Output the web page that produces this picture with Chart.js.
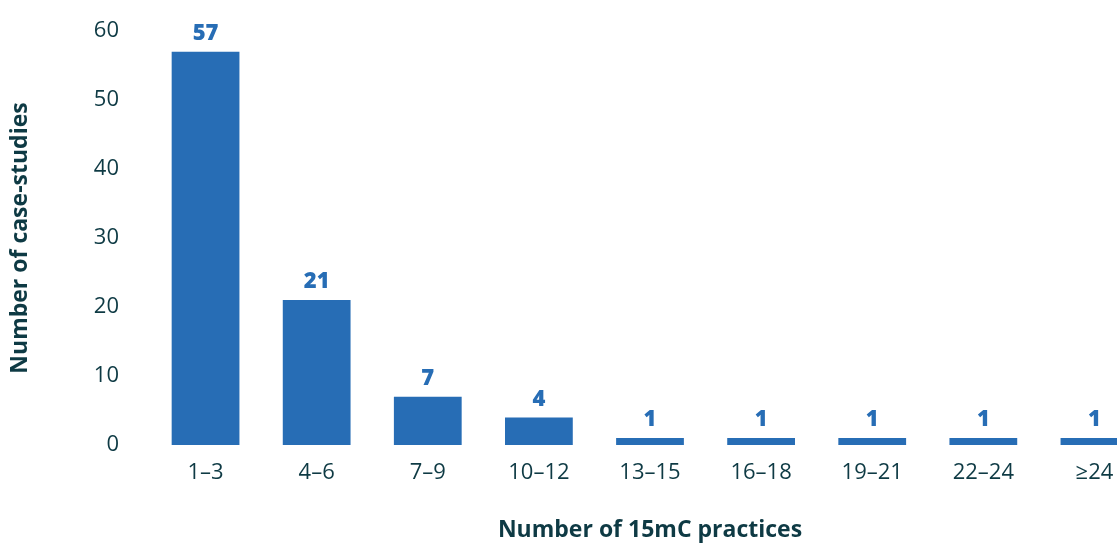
<!DOCTYPE html>
<html>
<head>
<meta charset="utf-8">
<script src="https://cdn.jsdelivr.net/npm/chart.js@4/dist/chart.umd.min.js"></script>
<style>
  html, body { margin: 0; padding: 0; background: #fff; overflow: hidden; }
  #wrap { width: 1150px; height: 544px; }
</style>
</head>
<body>
<div id="wrap"><canvas id="practicesChart" width="1150" height="544"></canvas></div>
<script>
// chart values
const categories = ['1–3', '4–6', '7–9', '10–12', '13–15', '16–18', '19–21', '22–24', '≥24'];
const caseStudies = [57, 21, 7, 4, 1, 1, 1, 1, 1];
const yTickValues = [0, 10, 20, 30, 40, 50, 60];

const barColor = '#276db5';
const textColor = '#0e3a44';
const fontFamily = '"Open Sans", "DejaVu Sans", sans-serif';

// draw the value above each bar
const valueLabels = {
  id: 'valueLabels',
  afterDatasetsDraw(chart) {
    const ctx = chart.ctx;
    const meta = chart.getDatasetMeta(0);
    ctx.save();
    ctx.font = '800 22px ' + fontFamily;
    ctx.fillStyle = barColor;
    ctx.textAlign = 'center';
    ctx.textBaseline = 'middle';
    meta.data.forEach((bar, i) => {
      ctx.fillText(String(caseStudies[i]), bar.x, bar.y - 18);
    });
    ctx.restore();
  }
};

const ctx = document.getElementById('practicesChart').getContext('2d');

new Chart(ctx, {
  type: 'bar',
  data: {
    labels: categories,
    datasets: [{
      label: 'Number of case-studies',
      data: caseStudies,
      backgroundColor: barColor,
      borderWidth: 0,
      categoryPercentage: 1,
      barPercentage: 0.61
    }]
  },
  options: {
    responsive: false,
    animation: false,
    layout: { padding: { top: 31, left: 0, right: 0, bottom: 0 } },
    plugins: {
      legend: { display: false },
      tooltip: { enabled: false }
    },
    scales: {
      x: {
        grid: { display: false, drawTicks: false },
        border: { display: false },
        ticks: {
          color: textColor,
          font: { family: fontFamily, size: 22 },
          padding: 15,
          maxRotation: 0,
          autoSkip: false
        },
        title: {
          display: true,
          text: 'Number of 15mC practices',
          color: textColor,
          font: { family: fontFamily, size: 23, weight: 'bold' },
          padding: { top: 0, bottom: 0 }
        },
        afterFit(scale) { scale.height = 99; }
      },
      y: {
        min: 0,
        max: 60,
        grid: { display: false, drawTicks: false },
        border: { display: false },
        afterBuildTicks(scale) {
          scale.ticks = yTickValues.map(v => ({ value: v }));
        },
        ticks: {
          color: textColor,
          font: { family: fontFamily, size: 22 },
          padding: 31
        },
        title: {
          display: true,
          text: 'Number of case-studies',
          color: textColor,
          font: { family: fontFamily, size: 23, weight: 'bold' },
          padding: { top: 7, bottom: 0 }
        },
        afterFit(scale) {
          scale.width = 150;
          scale.paddingTop = 0;
          scale.paddingBottom = 0;
        }
      }
    }
  },
  plugins: [valueLabels]
});
</script>
</body>
</html>
